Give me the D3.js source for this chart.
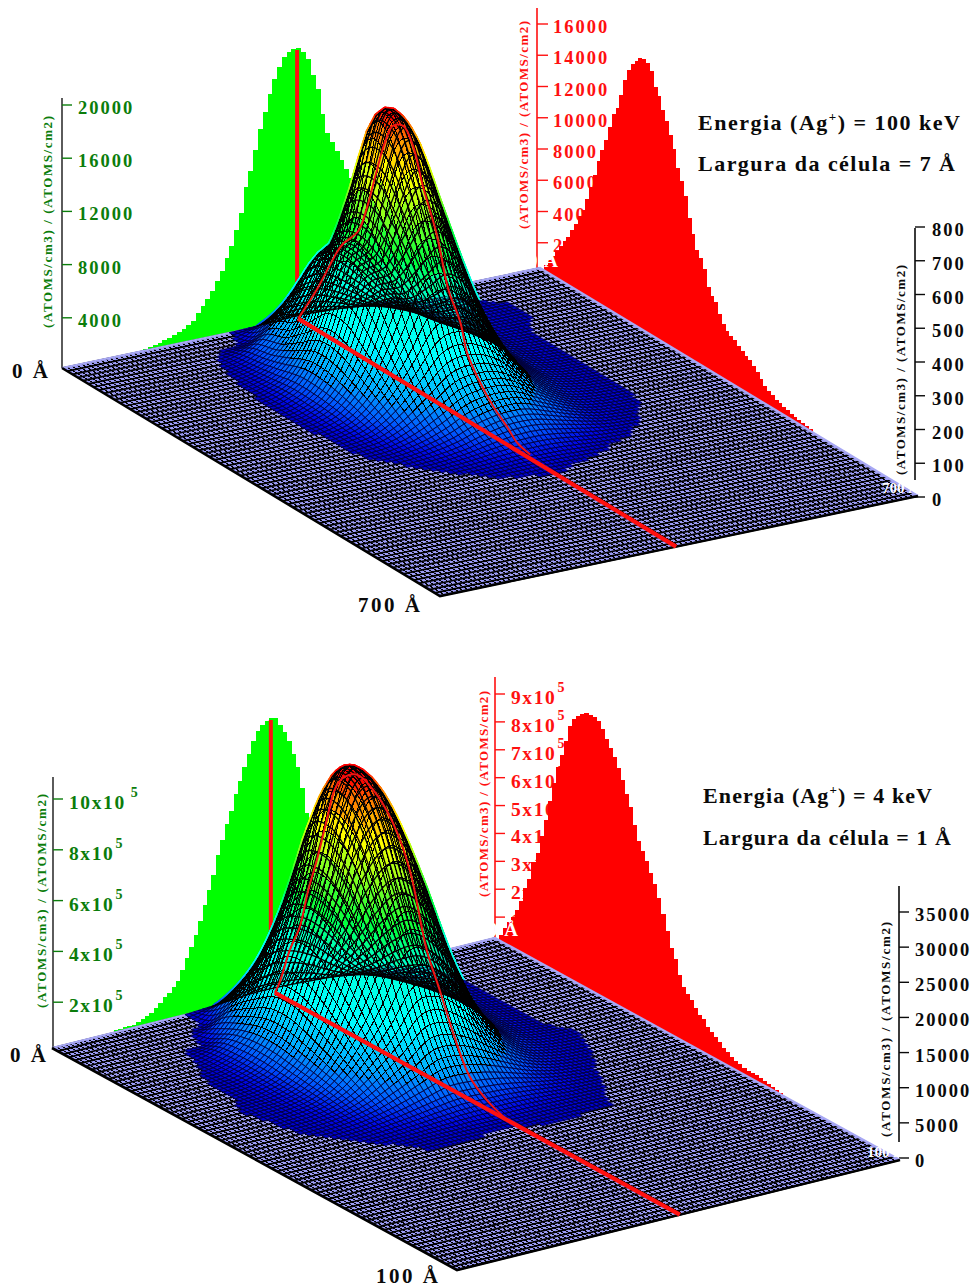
<!DOCTYPE html>
<html><head><meta charset="utf-8">
<script src="https://cdn.jsdelivr.net/npm/d3@7"></script>
<style>html,body{margin:0;padding:0;background:#fff}svg{display:block}text{font-family:"Liberation Serif",serif;font-weight:bold}</style>
</head><body><svg id="c" width="973" height="1287"></svg>
<script>
// ---------- values ----------
const titleAxis = "(ATOMS/cm3) / (ATOMS/cm2)";
const knotU = [.1,.15,.2,.25,.3,.35,.4,.45,.5,.55,.6,.65,.7,.75,.8,.85,.9];
const knotV = [0,.05,.1,.15,.2,.25,.3,.35,.4,.45,.5,.55,.6,.65,.7];

// top panel (100 keV, 7 A)
const green1Start = 17;
const green1 = [150,225,300,375,525,600,750,900,1050,1275,1500,2025,2475,2925,3450,4125,4800,5700,6525,7650,8850,10725,11850,13350,14850,16050,17325,18375,19200,19875,20175,20325,20325,19950,19350,18075,16950,15000,13500,12750,12000,11250,10500,9750,8250,6750,5250,4125,3000,2100,1500,900,525,225];
const red1Start = 1;
const red1 = [380,900,1280,1730,2180,2690,3070,3650,4220,4860,5380,6270,7170,8060,9090,9980,10750,11710,12670,13250,14210,15300,16130,16640,16960,17280,17410,17280,16900,16060,15620,14850,14270,13570,12800,11710,11010,10240,8960,8060,7230,6850,6270,5250,4860,4610,3970,3520,3200,3010,2880,2690,2500,2300,2180,1980,1730,1410,1150,960,830,700,640,510,450,380,320,260,190,190,130];
const surface1 = [
[0,0,0,0,0,1,3,6,9,6,3,2,1,0,0,0,0],
[0,0,0,0,0,10,70,122,121,90,50,20,6,3,2,0,0],
[0,0,0,0,16,64,150,260,258,190,108,44,14,4,3,2,0],
[0,0,0,3,26,88,203,353,350,259,147,60,19,6,3,2,0],
[0,0,0,6,40,135,313,544,539,399,226,92,29,8,3,1,0],
[0,0,0,9,55,184,426,757,750,544,309,125,39,10,3,0,0],
[0,0,0,9,55,182,421,748,740,537,305,123,38,10,3,0,0],
[0,0,0,8,46,145,330,560,557,415,240,100,33,10,3,0,0],
[0,0,0,6,32,100,215,345,350,270,165,75,28,9,3,0,0],
[0,0,0,4,18,58,120,185,196,170,110,55,20,7,3,0,0],
[0,0,0,2,8,26,56,95,110,105,72,38,14,5,2,0,0],
[0,0,0,0,3,10,22,42,56,56,40,22,8,3,0,0,0],
[0,0,0,0,0,3,8,14,18,18,12,5,2,0,0,0,0],
[0,0,0,0,0,0,2,4,5,3,1,0,0,0,0,0,0],
[0,0,0,0,0,0,0,0,0,0,0,0,0,0,0,0,0]];
const cut1V = [0,.05,.103,.119,.159,.183,.209,.23,.251,.278,.304,.33,.368,.397,.429,.447,.474,.516,.553,.579,.614];
const cut1Z = [0,121,267,302,367,456,584,679,741,759,717,616,492,356,279,201,148,89,53,24,12];

// bottom panel (4 keV, 1 A)
const green2Start = 14;
const green2 = [.08,.08,.12,.12,.12,.16,.24,.31,.39,.55,.71,.91,1.02,1.22,1.42,1.81,2.24,2.6,3.03,3.54,4.13,4.69,5.24,5.98,6.54,7.09,7.56,8.19,8.66,9.17,9.65,10.12,10.47,10.67,10.79,10.83,10.79,10.47,10.16,9.76,9.21,8.66,7.8,6.77,6.1,5.12,4.13,3.15,2.36,1.57,.98,.59,.31,.12];
const red2Start = 1;
const red2 = [.22,.54,.86,1.11,1.43,1.83,2.4,2.8,3.48,3.87,4.59,5.23,5.99,6.7,7.35,7.88,8.46,9.07,9.39,9.6,9.75,9.86,9.86,9.86,9.82,9.6,9.32,9.07,8.85,8.53,8.17,7.74,7.35,6.81,6.31,6.02,5.73,5.38,5.09,4.66,4.16,3.62,3.12,2.8,2.29,1.94,1.76,1.65,1.43,1.25,1.18,1,.9,.79,.68,.57,.5,.39,.32,.29,.25,.22,.22,.22,.18,.18,.14,.11,.07,.04];
const surface2 = [
[0,0,0,0,60,250,460,700,700,560,350,170,60,20,0,0,0],
[0,0,0,0,200,3300,6100,9400,9200,7400,4600,2200,830,280,110,0,0],
[0,0,0,110,2850,6840,12540,19300,19000,15200,9500,4560,1710,570,230,0,0],
[0,0,200,1500,4500,10800,19800,30500,30000,24000,15000,7200,2700,900,300,0,0],
[0,60,400,1925,5780,13860,25000,37500,37500,30000,19000,9240,3470,1160,300,0,0],
[0,110,500,1950,5850,14040,25200,37800,37800,30400,19200,9360,3510,1170,300,0,0],
[0,120,500,1680,5030,12060,22100,33800,33500,26800,16750,8040,3000,1000,300,0,0],
[60,200,460,1400,4000,9000,16000,24800,24500,19500,12000,5900,2300,850,320,100,0],
[0,160,400,1100,2800,5900,9700,14300,14100,11300,7100,3700,1500,620,230,60,0],
[0,100,280,700,1600,3100,4900,6900,6800,5500,3700,2000,900,360,100,0,0],
[0,0,120,330,700,1200,1800,2350,2260,2000,1500,900,450,170,0,0,0],
[0,0,0,100,220,360,500,600,560,560,480,320,180,60,0,0,0],
[0,0,0,0,100,130,120,70,80,150,160,120,100,0,0,0,0],
[0,0,0,0,0,0,0,0,0,40,0,0,0,0,0,0,0],
[0,0,0,0,0,0,0,0,0,0,0,0,0,0,0,0,0]];
const cut2V = [0,.012,.037,.062,.081,.104,.128,.148,.168,.202,.242,.291,.333,.375,.407,.44,.481,.523,.573];
const cut2Z = [0,1850,7250,11380,16790,22190,28590,33570,35850,37410,36560,33430,28020,17920,13230,8250,3270,1280,0];

// axis ticks
const greenTicks1 = [4000,8000,12000,16000,20000];
const redTicks1 = [2000,4000,6000,8000,10000,12000,14000,16000];
const blackTicks1 = [0,100,200,300,400,500,600,700,800];
const greenTicks2 = [2,4,6,8,10];
const redTicks2 = [1,2,3,4,5,6,7,8,9];
const blackTicks2 = [0,5000,10000,15000,20000,25000,30000,35000];
const heatStops = [0,.012,.05,.12,.25,.42,.55,.82,.94,1];
const heatColors = ['#0000c8','#0008e8','#0058ff','#00a8ff','#00ffff','#00ffd8','#00ff40','#ffff00','#ff8000','#ff0000'];

// ---------- drawing ----------
const svg = d3.select('#c');
const GREEN='#0b7d0b', RED='#ff1010', INK='#0a0a0a';

function crWeights(t){const t2=t*t,t3=t2*t;return [(-t3+2*t2-t)/2,(3*t3-5*t2+2)/2,(-3*t3+4*t2+t)/2,(t3-t2)/2];}
function resample(m,sub){ // surface mesh between the read knots
  const R=m.length,C=m[0].length,out=[];
  const at=(r,c)=>m[Math.max(0,Math.min(R-1,r))][Math.max(0,Math.min(C-1,c))];
  for(let i=0;i<=(R-1)*sub;i++){const row=[];const r0=Math.min(R-2,Math.floor(i/sub)),tr=i/sub-r0,wr=crWeights(tr);
    for(let j=0;j<=(C-1)*sub;j++){const c0=Math.min(C-2,Math.floor(j/sub)),tc=j/sub-c0,wc=crWeights(tc);
      let s=0;for(let a=0;a<4;a++)for(let b=0;b<4;b++)s+=wr[a]*wc[b]*at(r0-1+a,c0-1+b);
      row.push(Math.max(0,s));}
    out.push(row);}
  return out;
}
function txt(g,x,y,s,o={}){
  const t=g.append('text').attr('x',x).attr('y',y).attr('font-size',o.size||18.5).attr('fill',o.fill||INK).text(s);
  if(o.ls!=null)t.attr('letter-spacing',o.ls);
  if(o.len)t.attr('textLength',o.len).attr('lengthAdjust','spacing');
  return t;
}
function vTitle(g,x,yBottom,len,fill){
  g.append('text').attr('transform',`translate(${x},${yBottom}) rotate(-90)`).attr('font-size',13).attr('fill',fill)
   .attr('textLength',len).attr('lengthAdjust','spacing').text(titleAxis);
}
function panel(p){
  const g=svg.append('g');
  const uX=d3.scaleLinear([0,1],[0,p.B[0]-p.A[0]]),uY=d3.scaleLinear([0,1],[0,p.B[1]-p.A[1]]);
  const vX=d3.scaleLinear([0,1],[0,p.D[0]-p.A[0]]),vY=d3.scaleLinear([0,1],[0,p.D[1]-p.A[1]]);
  const fx=(u,v)=>p.A[0]+uX(u)+vX(v), fy=(u,v)=>p.A[1]+uY(u)+vY(v);
  const gS=d3.scaleLinear(p.green.dom,p.green.rng), rS=d3.scaleLinear(p.red.dom,p.red.rng), zS=d3.scaleLinear(p.black.dom,p.black.rng);
  const gH=v=>gS(0)-gS(v), rH=v=>rS(0)-rS(v), zH=v=>zS(0)-zS(v);
  const px=(u,v,z)=>[fx(u,v),fy(u,v)-zH(z)];
  // axes
  [[p.green,gS,GREEN,'#333'],[p.red,rS,RED,RED],[p.black,zS,INK,INK]].forEach(([a,s,col,lc])=>{
    g.append('path').attr('d',`M${a.x},${a.top}V${a.bot}`).attr('stroke',lc).attr('stroke-width',1.6).attr('fill','none');
    g.selectAll(null).data(a.ticks).join('path').attr('d',d=>`M${a.x},${s(d)}h${a.tl}`).attr('stroke',lc==='#333'?col:lc).attr('stroke-width',1.4);
    a.ticks.forEach(d=>{
      const t=txt(g,a.lx,s(d)+(a.dy||9),a.fmt?a.fmt(d):String(d),{fill:col,ls:a.ls==null?2:a.ls,size:a.size||18.5});
      if(a.sup&&a.sup(d))t.append('tspan').attr('dy',-12).attr('dx',d===10?5:1).attr('font-size',14).text('5');
    });
    vTitle(g,a.tx,a.ty,a.tlen,col);
  });
  // wall histograms
  const greenBars=g.append('g').attr('fill','#00ff00').attr('shape-rendering','crispEdges');
  greenBars.selectAll('path').data(p.green.values).join('path').attr('d',(d,i)=>{
    const a=(p.green.start+i)/100,b=(p.green.start+i+1)/100,top=fy((a+b)/2,0)-gH(d);
    return `M${fx(a,0)},${fy(a,0)+1}V${top}H${fx(b,0)+.4}V${fy(b,0)+1}Z`;});
  const redBars=g.append('g').attr('fill','#ff0000').attr('shape-rendering','crispEdges');
  redBars.selectAll('path').data(p.red.values).join('path').attr('d',(d,i)=>{
    const a=(p.red.start+i)/100,b=(p.red.start+i+1)/100,top=fy(1,(a+b)/2)-rH(d);
    return `M${fx(1,a)},${fy(1,a)+1}V${top}H${fx(1,b)+.4}V${fy(1,b)+1}Z`;});
  txt(g,p.zero[0],p.zero[1],'0 Å',{size:19,fill:'#fff',ls:1});
  // floor
  const corners=[[0,0],[1,0],[1,1],[0,1]];
  g.append('path').attr('d',d3.line()(corners.map(c=>[fx(c[0],c[1]),fy(c[0],c[1])]))+'Z').attr('fill','#9c9cf6');
  const floorU=d3.range(0,1.0001,1/100), floorV=d3.range(0,1.0001,1/72);
  const fl=g.append('g').attr('stroke','#000').attr('fill','none');
  fl.append('g').attr('stroke-width',1).attr('shape-rendering','crispEdges').selectAll('path').data(floorU).join('path').attr('d',u=>`M${fx(u,0)},${fy(u,0)}L${fx(u,1)},${fy(u,1)}`);
  fl.append('g').attr('stroke-width',1.7).selectAll('path').data(floorV).join('path').attr('d',v=>`M${fx(0,v)},${fy(0,v)}L${fx(1,v)},${fy(1,v)}`);
  g.append('path').attr('d',`M${p.A}L${p.B}L${fx(1,1)},${fy(1,1)}`).attr('fill','none').attr('stroke','#a8a8f4').attr('stroke-width',2.2);
  g.append('path').attr('d',`M${p.A}L${p.D}L${fx(1,1)},${fy(1,1)}`).attr('fill','none').attr('stroke','#000').attr('stroke-width',2.6);
  // cursor on the green wall
  g.append('path').attr('d',`M${fx(p.cutU,0)+p.curDx},${p.curTop}V${fy(p.cutU,0)}`).attr('stroke','#ff1010').attr('stroke-width',4).attr('fill','none');
  // surface: fills painted back to front, the whole wire mesh laid over them
  const sub=5, grid=resample(p.surface,sub);
  const uAt=d3.scaleLinear([0,(knotU.length-1)*sub],[knotU[0],knotU[knotU.length-1]]);
  const vAt=d3.scaleLinear([0,(knotV.length-1)*sub],[knotV[0],knotV[knotV.length-1]]);
  const color=d3.scaleLinear(heatStops,heatColors).clamp(true);
  const cells=[];let wireHi='',wireLo='',wireBack='';
  const Q=(i,j)=>px(uAt(j),vAt(i),grid[i][j]);
  const S=a=>a[0].toFixed(1)+','+a[1].toFixed(1);
  for(let i=0;i<grid.length-1;i++)for(let j=0;j<grid[0].length-1;j++){
    const q=[grid[i][j],grid[i][j+1],grid[i+1][j+1],grid[i+1][j]];
    if(d3.max(q)<p.thresh)continue;
    const a=Q(i,j),b=Q(i,j+1),c=Q(i+1,j+1),e=Q(i+1,j);
    const d='M'+S(a)+'L'+S(b)+'L'+S(c)+'L'+S(e)+'Z';
    const facing=(c[0]-a[0])*(e[1]-b[1])-(c[1]-a[1])*(e[0]-b[0]);
    const z=d3.mean(q)/p.peak;
    if(facing<0)wireBack+=d;else if(z>.1)wireHi+=d;else wireLo+=d;
    cells.push({d,z});
  }
  g.append('g').selectAll('path').data(cells.filter(c=>c.z>.04)).join('path').attr('d',c=>c.d)
    .attr('fill',c=>color(c.z)).attr('stroke',c=>color(c.z)).attr('stroke-width',4.5).attr('stroke-linejoin','round');
  g.append('g').selectAll('path').data(cells).join('path').attr('d',c=>c.d)
    .attr('fill',c=>color(c.z)).attr('stroke',c=>color(c.z)).attr('stroke-width',.6);
  g.append('path').attr('d',wireLo).attr('fill','none').attr('stroke','#00003c').attr('stroke-width',.7);
  g.append('path').attr('d',wireHi).attr('fill','none').attr('stroke','#000').attr('stroke-width',1).attr('shape-rendering','crispEdges');
  g.append('path').attr('d',wireBack).attr('fill','none').attr('stroke','#000').attr('stroke-width',1.3);
  // heavy line on floor and section over the surface
  g.append('path').attr('d',`M${fx(p.cutU,0)},${fy(p.cutU,0)}L${fx(p.cutU,1)},${fy(p.cutU,1)}`).attr('stroke','#ff1010').attr('stroke-width',4.2);
  g.append('path').attr('d',d3.line().curve(d3.curveCatmullRom)(p.cutV.map((v,i)=>px(p.cutU,v,p.cutZ[i])))).attr('fill','none').attr('stroke','#f01414').attr('stroke-width',2);
  // texts
  txt(g,p.lab0[0],p.lab0[1],'0 Å',{size:21,ls:2.5});
  txt(g,p.labD[0],p.labD[1],p.depth,{size:21,ls:2.5});
  txt(g,p.labC[0],p.labC[1],p.depth,{size:15,fill:'#fff'});
  const t1=txt(g,p.note[0],p.note[1],'Energia (Ag',{size:22,len:p.noteLen[0]});
  t1.append('tspan').attr('dy',-9).attr('font-size',13).text('+');
  t1.append('tspan').attr('dy',9).text(p.energy);
  txt(g,p.note[0],p.note[2],p.width,{size:22,len:p.noteLen[1]});
}
const sup5=()=>true;
panel({A:[62,368],B:[540,268],D:[440,596],cutU:.494,curDx:-1,curTop:50,thresh:2,peak:800,
  surface:surface1,cutV:cut1V,cutZ:cut1Z,depth:'700 Å',energy:') = 100 keV',width:'Largura da célula = 7 Å',
  note:[698,130,171],noteLen:[262,257],zero:[528,267],lab0:[12,378],labD:[358,612],labC:[882,493],
  green:{dom:[0,20000],rng:[371,105],ticks:greenTicks1,x:62,top:98,bot:368,tl:10,lx:78,start:green1Start,values:green1,tx:52,ty:328,tlen:212},
  red:{dom:[0,16000],rng:[274,24],ticks:redTicks1,x:537,top:8,bot:268,tl:11,lx:553,start:red1Start,values:red1,tx:528,ty:229,tlen:208},
  black:{dom:[0,800],rng:[497,227],ticks:blackTicks1,x:915,top:228,bot:480,tl:10,lx:932,tx:905,ty:475,tlen:210}});
panel({A:[52,1048],B:[495,938],D:[457,1270],cutU:.503,curDx:-4,curTop:720,thresh:100,peak:38800,
  surface:surface2,cutV:cut2V,cutZ:cut2Z,depth:'100 Å',energy:') = 4 keV',width:'Largura da célula = 1 Å',
  note:[703,803,845],noteLen:[229,248],zero:[488,936],lab0:[10,1062],labD:[376,1283],labC:[867,1157],
  green:{dom:[0,10],rng:[1053,799],ticks:greenTicks2,x:53,top:777,bot:1047,tl:10,lx:69,start:green2Start,values:green2,tx:46,ty:1008,tlen:214,fmt:d=>d+'x10',sup:sup5,ls:1.6,size:19.5,dy:10},
  red:{dom:[0,9],rng:[945,694],ticks:redTicks2,x:495,top:677,bot:938,tl:10,lx:511,start:red2Start,values:red2,tx:488,ty:897,tlen:206,fmt:d=>d+'x10',sup:sup5,ls:1.6,size:19.5,dy:10},
  black:{dom:[0,35000],rng:[1158,912],ticks:blackTicks2,x:899,top:886,bot:1142,tl:10,lx:915,tx:890,ty:1137,tlen:215}});
</script></body></html>
